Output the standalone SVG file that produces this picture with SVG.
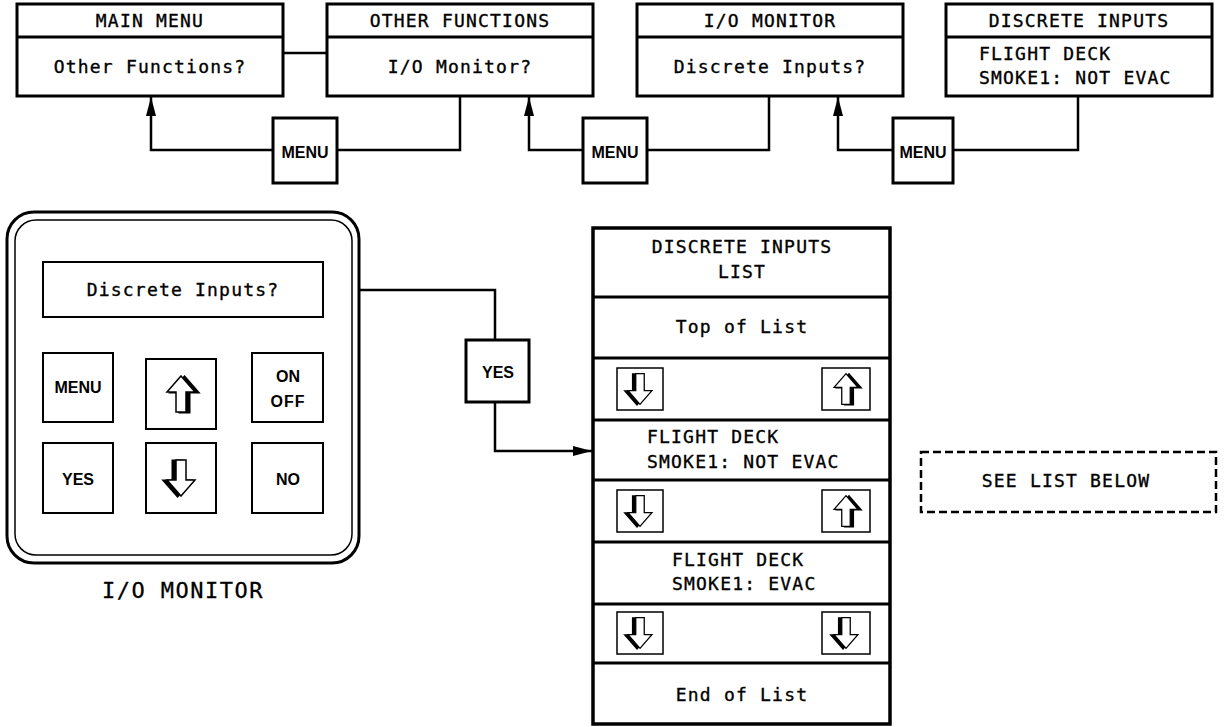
<svg xmlns="http://www.w3.org/2000/svg" xmlns:xlink="http://www.w3.org/1999/xlink" width="1225" height="727" viewBox="0 0 1225 727">
<style>
.box{fill:#fff;stroke:#000;stroke-width:3}
.thin{fill:#fff;stroke:#000;stroke-width:2}
.hair{fill:#fff;stroke:#000;stroke-width:1.5}
.ln{fill:none;stroke:#000;stroke-width:2.5}
.t{font-family:"DejaVu Sans Mono","Liberation Mono",monospace;font-size:18px;letter-spacing:1.2px;fill:#000;stroke:#000;stroke-width:0.35}
.k{font-family:"Liberation Sans",Arial,sans-serif;font-size:16px;font-weight:bold;fill:#000}
.big{font-family:"DejaVu Sans Mono","Liberation Mono",monospace;font-size:22px;letter-spacing:1.5px;fill:#000;stroke:#000;stroke-width:0.3}
.m{text-anchor:middle}
.sh{fill:#000;stroke:#000;stroke-width:2;stroke-linejoin:miter}
.ar{fill:#fff;stroke:#000;stroke-width:1.5;stroke-linejoin:miter}
</style>
<defs>
<marker id="ah" markerUnits="userSpaceOnUse" markerWidth="19" markerHeight="10" refX="19" refY="5" orient="auto">
<path d="M0,0 L19,5 L0,10 Z" fill="#000"/>
</marker>
<g id="arrUp">
<path class="sh" transform="translate(3.5,0.5)" d="M0,-18 L14,-2 L5,-2 L5,18 L-5,18 L-5,-2 L-14,-2 Z"/>
<path class="ar" d="M0,-18 L14,-2 L5,-2 L5,18 L-5,18 L-5,-2 L-14,-2 Z"/>
</g>
<g id="arrDn">
<path class="sh" transform="translate(-3.5,0.5)" d="M0,18 L14,2 L5,2 L5,-18 L-5,-18 L-5,2 L-14,2 Z"/>
<path class="ar" d="M0,18 L14,2 L5,2 L5,-18 L-5,-18 L-5,2 L-14,2 Z"/>
</g>
</defs>
<rect width="1225" height="727" fill="#fff"/>

<g id="connectors">
<line class="ln" x1="283" y1="53" x2="327" y2="53"/>
<polyline class="ln" points="460,96 460,150 337,150"/>
<polyline class="ln" points="273,150 151,150 151,97" marker-end="url(#ah)"/>
<polyline class="ln" points="769,96 769,150 647,150"/>
<polyline class="ln" points="583,150 529,150 529,97" marker-end="url(#ah)"/>
<polyline class="ln" points="1078,96 1078,150 953,150"/>
<polyline class="ln" points="893,150 838,150 838,97" marker-end="url(#ah)"/>
<polyline class="ln" points="323,290 495,290 495,340"/>
<polyline class="ln" points="495,402 495,451 592,451" marker-end="url(#ah)"/>
</g>

<g id="main-menu">
<rect class="box" x="17" y="4" width="266" height="92"/>
<line class="ln" x1="17" y1="37" x2="283" y2="37" style="stroke-width:3"/>
<text class="t m" x="150" y="27">MAIN MENU</text>
<text class="t m" x="150" y="73">Other Functions?</text>
</g>
<g id="other-functions">
<rect class="box" x="327" y="4" width="266" height="92"/>
<line class="ln" x1="327" y1="37" x2="593" y2="37" style="stroke-width:3"/>
<text class="t m" x="460" y="27">OTHER FUNCTIONS</text>
<text class="t m" x="460" y="73">I/O Monitor?</text>
</g>
<g id="io-monitor">
<rect class="box" x="637" y="4" width="266" height="92"/>
<line class="ln" x1="637" y1="37" x2="903" y2="37" style="stroke-width:3"/>
<text class="t m" x="770" y="27">I/O MONITOR</text>
<text class="t m" x="770" y="73">Discrete Inputs?</text>
</g>
<g id="discrete-inputs">
<rect class="box" x="946" y="4" width="266" height="92"/>
<line class="ln" x1="946" y1="37" x2="1212" y2="37" style="stroke-width:3"/>
<text class="t m" x="1079" y="27">DISCRETE INPUTS</text>
<text class="t" x="979" y="60">FLIGHT DECK</text>
<text class="t" x="979" y="84">SMOKE1: NOT EVAC</text>
</g>

<g id="menu1"><rect class="box" x="273" y="118" width="64" height="65"/><text class="k m" x="305" y="158">MENU</text></g>
<g id="menu2"><rect class="box" x="583" y="118" width="64" height="65"/><text class="k m" x="615" y="158">MENU</text></g>
<g id="menu3"><rect class="box" x="893" y="118" width="60" height="65"/><text class="k m" x="923" y="158">MENU</text></g>

<g id="keypad">
<rect x="7" y="212" width="352" height="351" rx="27" fill="#fff" stroke="#000" stroke-width="3"/>
<rect x="15" y="220" width="337" height="335" rx="21" fill="none" stroke="#000" stroke-width="1.5"/>
<rect class="thin" x="43" y="262" width="280" height="55"/>
<text class="t m" x="183" y="296">Discrete Inputs?</text>
<rect class="thin" x="43" y="353" width="70" height="69"/>
<text class="k m" x="78" y="393">MENU</text>
<rect class="thin" x="146" y="359" width="70" height="70"/>
<use xlink:href="#arrUp" transform="translate(181,394)"/>
<rect class="thin" x="252" y="353" width="71" height="69"/>
<text class="k m" x="288" y="382">ON</text>
<text class="k m" x="288" y="407" letter-spacing="1">OFF</text>
<rect class="thin" x="43" y="443" width="70" height="70"/>
<text class="k m" x="78" y="485">YES</text>
<rect class="thin" x="146" y="443" width="70" height="70"/>
<use xlink:href="#arrDn" transform="translate(181,478)"/>
<rect class="thin" x="252" y="443" width="71" height="70"/>
<text class="k m" x="288" y="485">NO</text>
</g>
<g id="keypad-label"><text class="big m" x="183" y="598">I/O MONITOR</text></g>

<g id="yes-key"><rect class="box" x="466" y="340" width="63" height="62"/><text class="k m" x="498" y="378">YES</text></g>

<g id="list">
<rect x="593" y="228" width="297" height="496" fill="#fff" stroke="#000" stroke-width="3.5"/>
<g stroke="#000" stroke-width="3">
<line x1="593" y1="297" x2="890" y2="297"/>
<line x1="593" y1="358" x2="890" y2="358"/>
<line x1="593" y1="420" x2="890" y2="420"/>
<line x1="593" y1="480" x2="890" y2="480"/>
<line x1="593" y1="542" x2="890" y2="542"/>
<line x1="593" y1="604" x2="890" y2="604"/>
<line x1="593" y1="663" x2="890" y2="663"/>
</g>
<text class="t m" x="742" y="253">DISCRETE INPUTS</text>
<text class="t m" x="742" y="278">LIST</text>
<text class="t m" x="742" y="333">Top of List</text>
<rect class="hair" x="617" y="368" width="46" height="42"/>
<use xlink:href="#arrDn" transform="translate(640,389) scale(0.85)"/>
<rect class="hair" x="822" y="368" width="48" height="42"/>
<use xlink:href="#arrUp" transform="translate(846,389) scale(0.85)"/>
<text class="t" x="647" y="443">FLIGHT DECK</text>
<text class="t" x="647" y="468">SMOKE1: NOT EVAC</text>
<rect class="hair" x="617" y="490" width="46" height="42"/>
<use xlink:href="#arrDn" transform="translate(640,511) scale(0.85)"/>
<rect class="hair" x="822" y="490" width="48" height="42"/>
<use xlink:href="#arrUp" transform="translate(846,511) scale(0.85)"/>
<text class="t" x="672" y="566">FLIGHT DECK</text>
<text class="t" x="672" y="590">SMOKE1: EVAC</text>
<rect class="hair" x="617" y="612" width="46" height="42"/>
<use xlink:href="#arrDn" transform="translate(640,633) scale(0.85)"/>
<rect class="hair" x="822" y="612" width="48" height="42"/>
<use xlink:href="#arrDn" transform="translate(846,633) scale(0.85)"/>
<text class="t m" x="742" y="701">End of List</text>
</g>

<g id="see-list-below">
<rect x="921" y="452" width="295" height="60" fill="none" stroke="#000" stroke-width="2.5" stroke-dasharray="8,4"/>
<text class="t m" x="1066" y="487">SEE LIST BELOW</text>
</g>
</svg>
